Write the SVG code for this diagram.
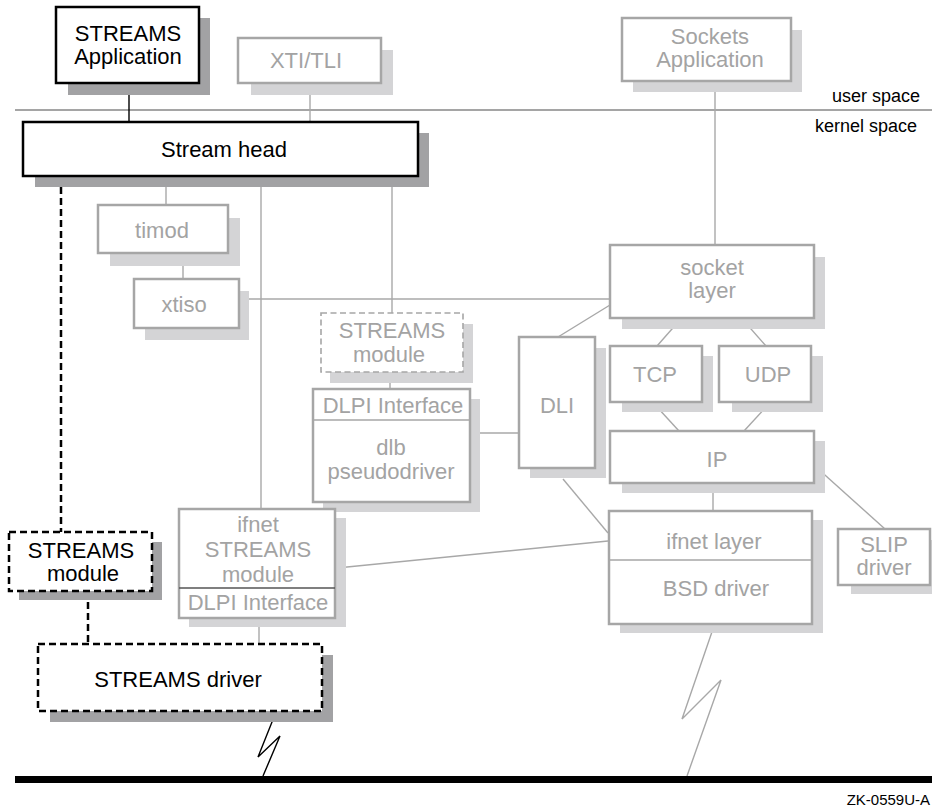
<svg xmlns="http://www.w3.org/2000/svg" width="932" height="808" viewBox="0 0 932 808">
<style>
text{font-family:"Liberation Sans",Arial,sans-serif;font-size:22px;text-anchor:middle}
.gt{fill:#a3a3a3}
.bt{fill:#000}
.gbox{fill:#fff;stroke:#a6a6a6;stroke-width:2.5}
.bbox{fill:#fff;stroke:#000;stroke-width:2.5}
.bdash{fill:#fff;stroke:#000;stroke-width:2.5;stroke-dasharray:7 4}
.gdash{fill:#fff;stroke:#a6a6a6;stroke-width:1.6;stroke-dasharray:6 3.5}
.ls{fill:#d4d4d6}
.ds{fill:#a2a2a4}
.gl{stroke:#a8a8a8;stroke-width:1.4;fill:none}
.bl{stroke:#000;stroke-width:1.4;fill:none}
.bdl{stroke:#000;stroke-width:2.5;fill:none;stroke-dasharray:7 4}
.div{stroke:#a6a6a6;stroke-width:1.4}
</style>
<rect width="932" height="808" fill="#fff"/>

<!-- user/kernel divider -->
<line x1="15" y1="110" x2="932" y2="110" stroke="#a5a5a5" stroke-width="2"/>
<text x="920" y="102" style="font-size:18px;text-anchor:end">user space</text>
<text x="917" y="132" style="font-size:18px;text-anchor:end">kernel space</text>

<g id="connectors">
<line class="bl" x1="129" y1="83" x2="129" y2="122"/>
<line class="gl" x1="310" y1="83" x2="310" y2="122"/>
<line class="gl" x1="715" y1="81" x2="715" y2="245"/>
<line class="bdl" x1="61" y1="187" x2="61" y2="532"/>
<line class="gl" x1="166" y1="176" x2="166" y2="205"/>
<line class="gl" x1="261" y1="176" x2="261" y2="509"/>
<line class="gl" x1="392" y1="176" x2="392" y2="313"/>
<line class="gl" x1="183" y1="253" x2="183" y2="279"/>
<line class="gl" x1="239" y1="299" x2="610" y2="299"/>
<line class="gl" x1="390" y1="372" x2="390" y2="389"/>
<line class="gl" x1="477" y1="433" x2="519" y2="433"/>
<line class="gl" x1="558" y1="337" x2="610" y2="305"/>
<line class="gl" x1="679" y1="321" x2="657" y2="346"/>
<line class="gl" x1="744" y1="321" x2="766" y2="346"/>
<line class="gl" x1="657" y1="407" x2="679" y2="431"/>
<line class="gl" x1="766" y1="407" x2="744" y2="431"/>
<line class="gl" x1="713" y1="487" x2="713" y2="511"/>
<line class="gl" x1="816" y1="467" x2="885" y2="529"/>
<line class="gl" x1="563" y1="479" x2="608" y2="533"/>
<line class="gl" x1="337" y1="568" x2="608" y2="541"/>
<line class="gl" x1="259" y1="618" x2="259" y2="644"/>
<line class="bdl" x1="88" y1="591" x2="88" y2="644"/>
<polyline class="bl" points="276,712 258,757 280,736 263,776"/>
<polyline class="gl" points="714,626 682,719 721,680 687,776"/>
</g>

<g id="streams-application">
<rect class="ds" x="68" y="18" width="142" height="77"/>
<rect class="bbox" x="56" y="7" width="143" height="76"/>
<text class="bt" x="128" y="41">STREAMS</text>
<text class="bt" x="128" y="64">Application</text>
</g>

<g id="xti-tli">
<rect class="ls" x="251" y="50" width="142" height="45"/>
<rect class="gbox" x="238" y="38" width="143" height="45"/>
<text class="gt" x="306" y="68">XTI/TLI</text>
</g>

<g id="sockets-application">
<rect class="ls" x="633" y="30" width="169" height="62"/>
<rect class="gbox" x="622" y="18" width="169" height="63"/>
<text class="gt" x="710" y="44">Sockets</text>
<text class="gt" x="710" y="67">Application</text>
</g>

<g id="stream-head">
<rect class="ds" x="35" y="133" width="394" height="54"/>
<rect class="bbox" x="23" y="122" width="395" height="54"/>
<text class="bt" x="224" y="157">Stream head</text>
</g>

<g id="timod">
<rect class="ls" x="110" y="218" width="130" height="48"/>
<rect class="gbox" x="98" y="205" width="130" height="48"/>
<text class="gt" x="162" y="238">timod</text>
</g>

<g id="xtiso">
<rect class="ls" x="145" y="291" width="104" height="49"/>
<rect class="gbox" x="134" y="279" width="105" height="49"/>
<text class="gt" x="184" y="312">xtiso</text>
</g>

<g id="streams-module-gray">
<rect class="ls" x="330" y="324" width="143" height="59"/>
<rect class="gdash" x="321" y="313" width="142" height="59"/>
<text class="gt" x="392" y="338">STREAMS</text>
<text class="gt" x="389" y="362">module</text>
</g>

<g id="dlb-pseudodriver">
<rect class="ls" x="323" y="399" width="157" height="113"/>
<rect class="gbox" x="313" y="389" width="157" height="113"/>
<line class="div" x1="313" y1="420" x2="470" y2="420"/>
<text class="gt" x="393" y="413">DLPI Interface</text>
<text class="gt" x="391" y="455">dlb</text>
<text class="gt" x="391" y="479">pseudodriver</text>
</g>

<g id="socket-layer">
<rect class="ls" x="622" y="257" width="203" height="72"/>
<rect class="gbox" x="610" y="245" width="204" height="73"/>
<text class="gt" x="712" y="275">socket</text>
<text class="gt" x="712" y="298">layer</text>
</g>

<g id="dli">
<rect class="ls" x="530" y="348" width="76" height="130"/>
<rect class="gbox" x="519" y="337" width="76" height="131"/>
<text class="gt" x="557" y="413">DLI</text>
</g>

<g id="tcp">
<rect class="ls" x="622" y="356" width="91" height="56"/>
<rect class="gbox" x="610" y="346" width="92" height="56"/>
<text class="gt" x="655" y="382">TCP</text>
</g>

<g id="udp">
<rect class="ls" x="732" y="356" width="91" height="56"/>
<rect class="gbox" x="719" y="346" width="92" height="56"/>
<text class="gt" x="768" y="382">UDP</text>
</g>

<g id="ip">
<rect class="ls" x="622" y="441" width="203" height="52"/>
<rect class="gbox" x="610" y="431" width="204" height="52"/>
<text class="gt" x="717" y="467">IP</text>
</g>

<g id="ifnet-bsd">
<rect class="ls" x="620" y="520" width="203" height="113"/>
<rect class="gbox" x="609" y="511" width="203" height="113"/>
<line class="div" x1="609" y1="560" x2="812" y2="560"/>
<text class="gt" x="714" y="549">ifnet layer</text>
<text class="gt" x="716" y="596">BSD driver</text>
</g>

<g id="slip-driver">
<rect class="ls" x="851" y="540" width="81" height="54"/>
<rect class="gbox" x="838" y="529" width="92" height="56"/>
<text class="gt" x="884" y="552">SLIP</text>
<text class="gt" x="884" y="575">driver</text>
</g>

<g id="ifnet-streams-module">
<rect class="ls" x="189" y="518" width="157" height="109"/>
<rect class="gbox" x="179" y="509" width="156" height="109"/>
<line x1="179" y1="588" x2="335" y2="588" stroke="#555" stroke-width="1.5"/>
<text class="gt" x="258" y="532">ifnet</text>
<text class="gt" x="258" y="557">STREAMS</text>
<text class="gt" x="258" y="582">module</text>
<text class="gt" x="258" y="610">DLPI Interface</text>
</g>

<g id="streams-module-black">
<rect class="ds" x="19" y="542" width="143" height="58"/>
<rect class="bdash" x="9" y="532" width="143" height="59"/>
<text class="bt" x="81" y="558">STREAMS</text>
<text class="bt" x="83" y="581">module</text>
</g>

<g id="streams-driver">
<rect class="ds" x="50" y="655" width="283" height="67"/>
<rect class="bdash" x="38" y="644" width="284" height="67"/>
<text class="bt" x="178" y="687">STREAMS driver</text>
</g>

<!-- network line -->
<rect x="15" y="776" width="917" height="7" fill="#000"/>
<text x="930" y="805" style="font-size:15px;text-anchor:end">ZK-0559U-A</text>
</svg>
